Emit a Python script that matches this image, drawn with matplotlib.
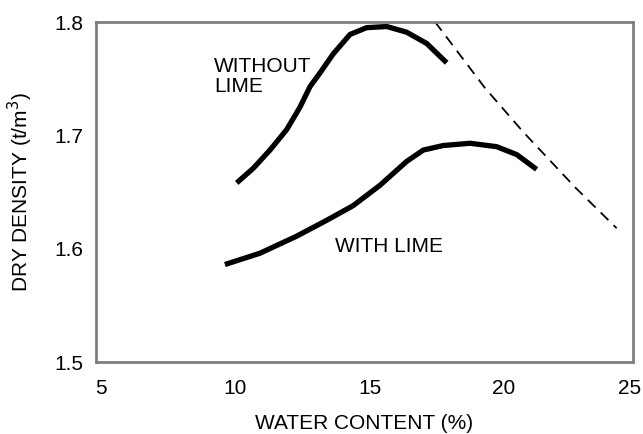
import matplotlib.pyplot as plt
from matplotlib.transforms import ScaledTranslation

# curve values
without_x = [10.24, 10.86, 11.48, 12.10, 12.60, 12.97, 13.34, 13.84, 14.46, 15.08, 15.83, 16.57, 17.32, 18.06]
without_y = [1.658, 1.671, 1.687, 1.705, 1.725, 1.743, 1.755, 1.772, 1.789, 1.795, 1.796, 1.791, 1.781, 1.764]

with_x = [9.80, 11.11, 12.47, 13.59, 14.58, 15.58, 16.57, 17.19, 17.93, 18.93, 19.92, 20.67, 21.41]
with_y = [1.586, 1.596, 1.611, 1.625, 1.638, 1.656, 1.677, 1.687, 1.691, 1.693, 1.690, 1.683, 1.670]

zav_x = [17.63, 19.48, 20.91, 22.85, 24.39]
zav_y = [1.800, 1.742, 1.703, 1.654, 1.618]

x_ticks = [5, 10, 15, 20, 25]
y_ticks = [1.5, 1.6, 1.7, 1.8]

plt.rcParams["font.family"] = ["Liberation Sans", "DejaVu Sans"]
FS = 15

fig = plt.figure(figsize=(6.43, 4.34), dpi=100)
ax = fig.add_axes([96 / 643, 72 / 434, 537 / 643, 340 / 434])

ax.plot(without_x, without_y, color="black", linewidth=3.8, solid_capstyle="butt", solid_joinstyle="round")
ax.plot(with_x, with_y, color="black", linewidth=3.8, solid_capstyle="butt", solid_joinstyle="round")
ax.plot(zav_x, zav_y, color="black", linewidth=1.3, linestyle=(0, (6, 4)))

ax.text(9.39, 1.756, "WITHOUT", fontsize=FS, va="baseline", ha="left")
ax.text(9.39, 1.738, "LIME", fontsize=FS, va="baseline", ha="left")
ax.text(13.90, 1.597, "WITH LIME", fontsize=FS, va="baseline", ha="left")

ax.set_xlim(5, 25)
ax.set_ylim(1.5, 1.8)
ax.set_xticks(x_ticks)
ax.set_yticks(y_ticks)
ax.set_xticklabels([str(v) for v in x_ticks])
ax.set_yticklabels([f"{v:.1f}" for v in y_ticks])
ax.tick_params(length=0, labelsize=FS)
ax.tick_params(axis="x", pad=12)
ax.tick_params(axis="y", pad=9)

# x tick labels sit a little right of their ticks in the reference;
# the last one is nudged left so it stays inside the figure
labels = ax.get_xticklabels()
shift = ScaledTranslation(5 / 100, 0, fig.dpi_scale_trans)
for lbl in labels[:-1]:
    lbl.set_transform(lbl.get_transform() + shift)
labels[-1].set_transform(labels[-1].get_transform() + ScaledTranslation(-3 / 100, 0, fig.dpi_scale_trans))

for s in ax.spines.values():
    s.set_color("#7f7f7f")
    s.set_linewidth(2)

ax.set_xlabel("WATER CONTENT (%)", fontsize=FS, labelpad=12)
ax.set_ylabel("DRY DENSITY (t/m$^3$)", fontsize=FS, labelpad=14)

fig.savefig("out.png", dpi=100)
